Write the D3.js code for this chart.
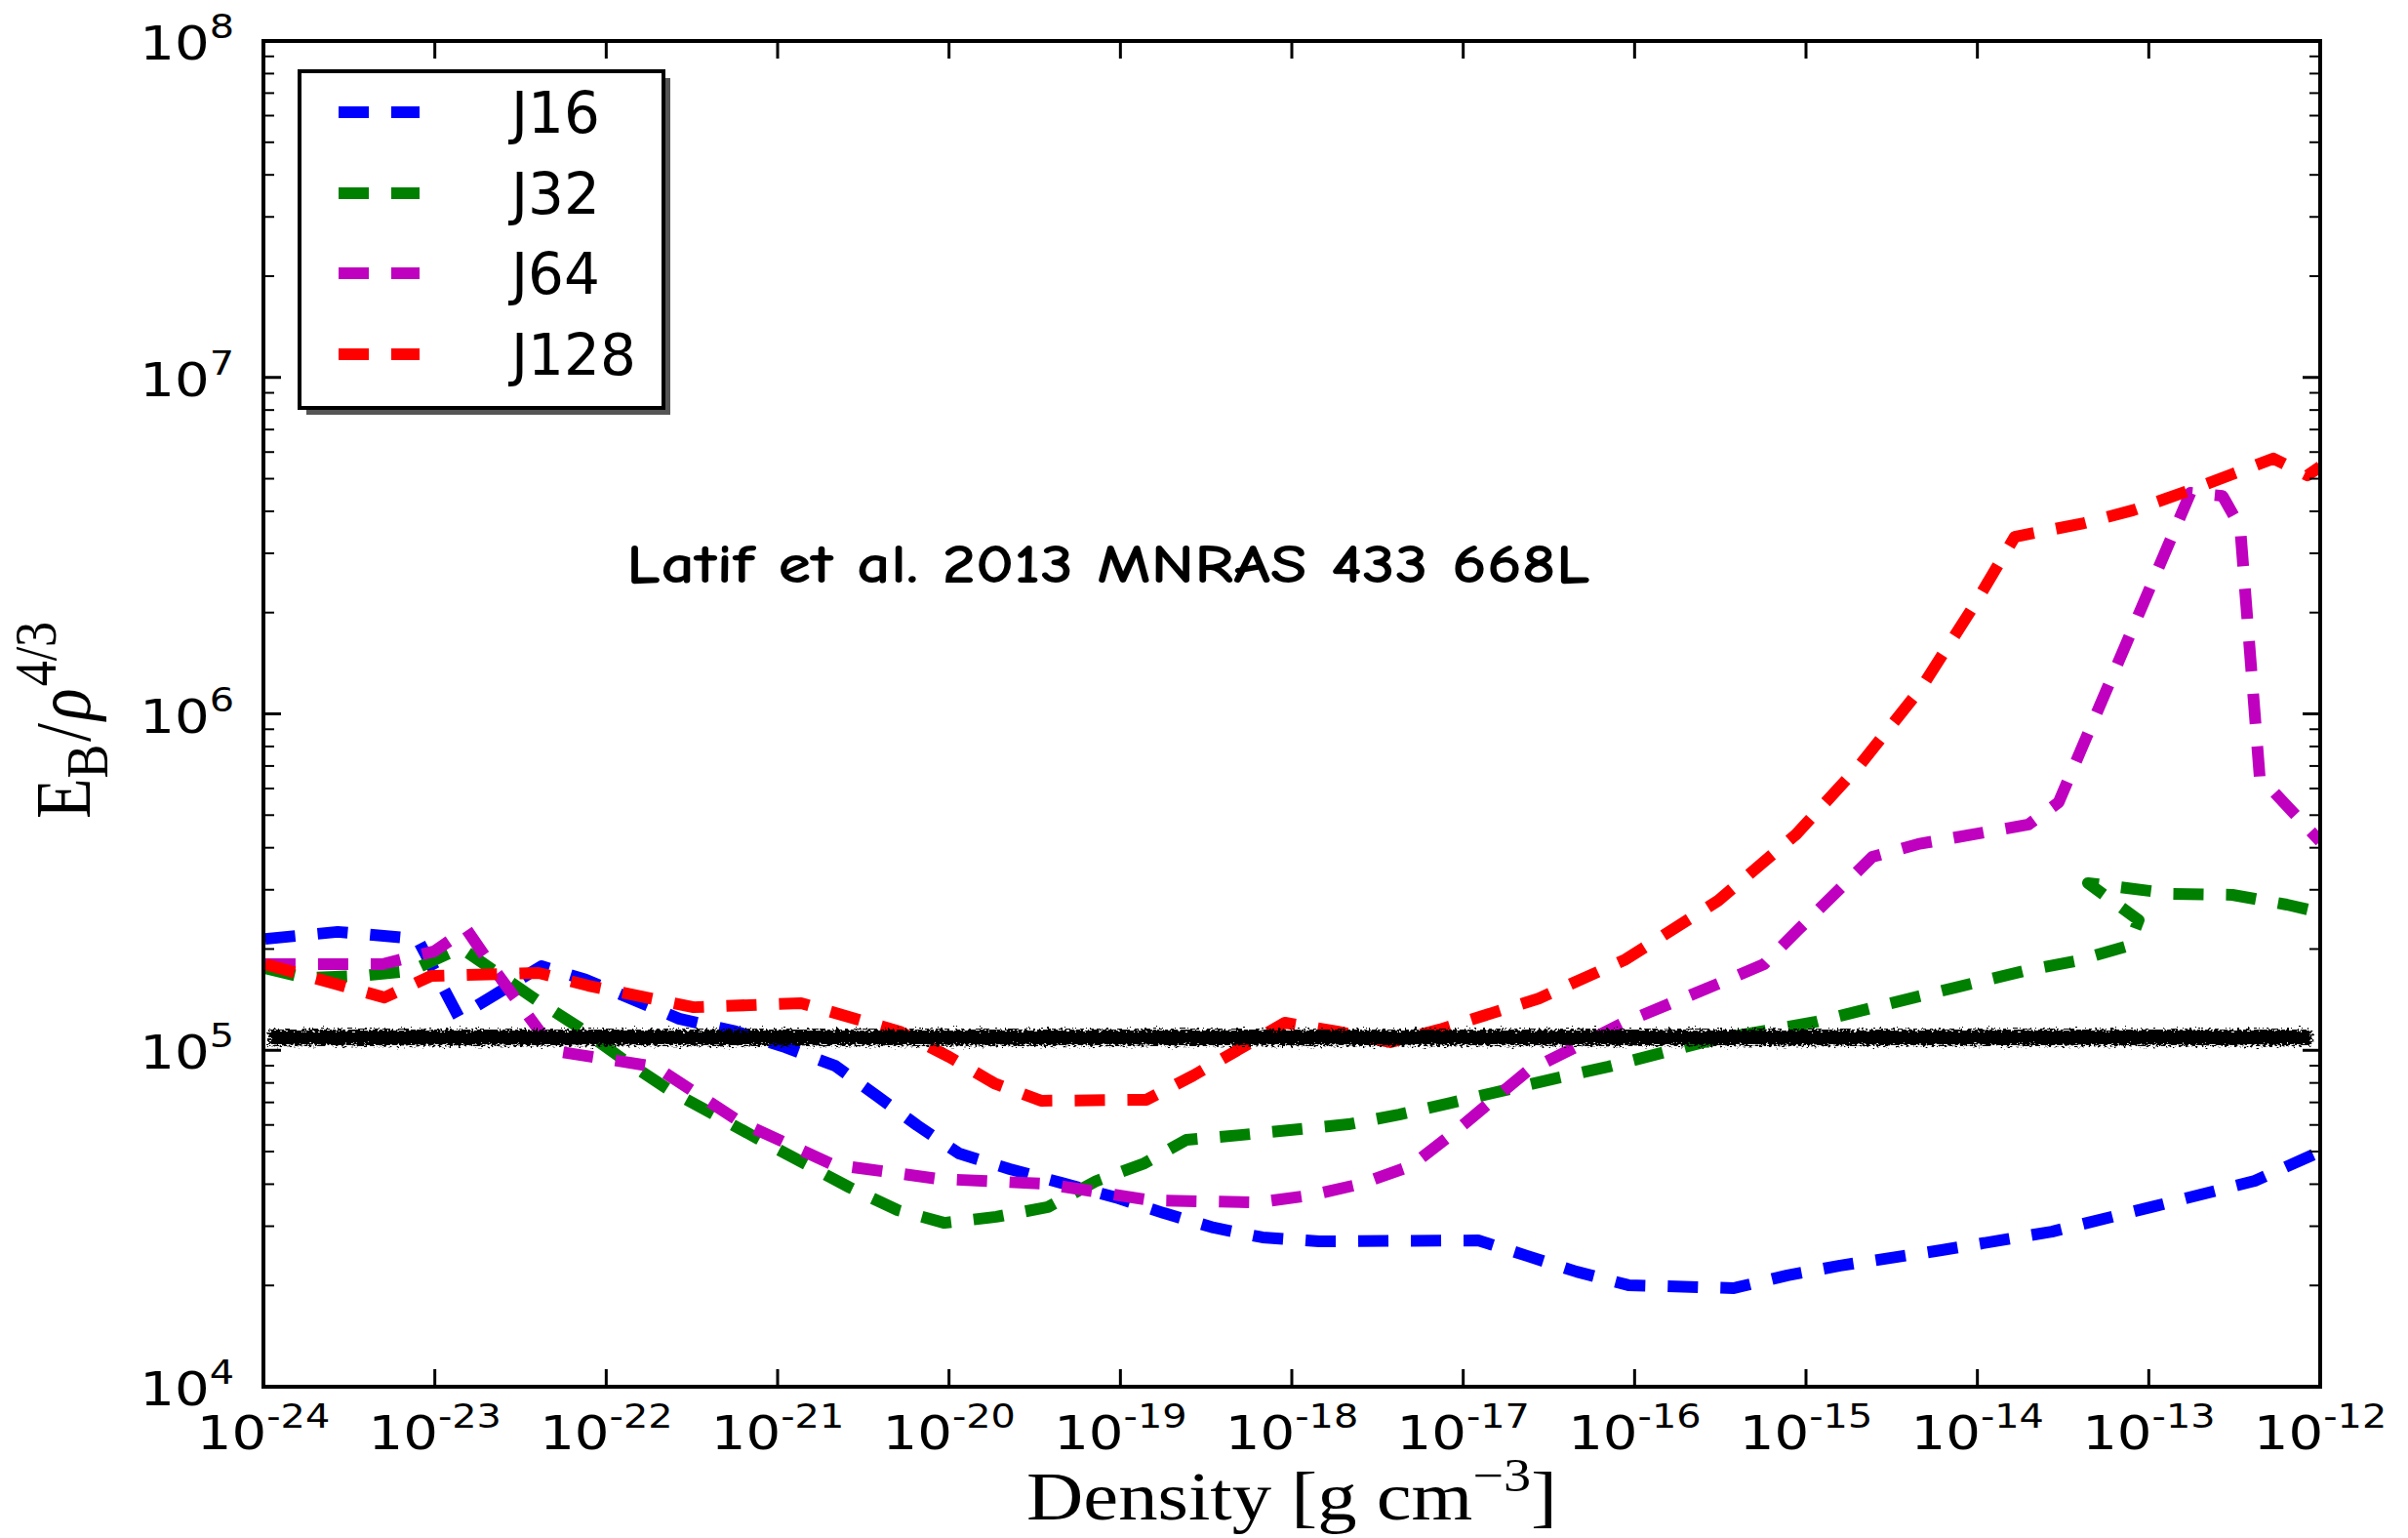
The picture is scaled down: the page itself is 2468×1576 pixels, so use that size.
<!DOCTYPE html>
<html>
<head>
<meta charset="utf-8">
<script src="https://cdn.jsdelivr.net/npm/d3@7"></script>
<style>
  html, body { margin: 0; padding: 0; background: #fff; }
  svg { display: block; }
</style>
</head>
<body>
<script>
// ---- data: log10(density [g cm^-3]) and log10(E_B / rho^{4/3}) ----
const seriesNames = ["J16", "J32", "J64", "J128"];
const seriesColors = ["#0000ff", "#008000", "#bf00bf", "#ff0000"];

const j16LogRho = [-23.99, -23.567, -23.101, -22.861, -22.378, -22.121, -21.575, -21.245, -20.955, -20.664, -20.414, -20.186, -19.941, -19.645, -19.344, -19.030, -18.746, -18.456, -18.171, -17.841, -16.913, -16.628, -16.338, -16.036, -15.421, -15.108, -14.801, -14.209, -13.566, -12.962, -12.381, -12.0];
const j16LogEB  = [5.331, 5.352, 5.331, 5.099, 5.250, 5.210, 5.094, 5.056, 5.009, 4.954, 4.862, 4.777, 4.693, 4.647, 4.606, 4.563, 4.516, 4.473, 4.444, 4.432, 4.435, 4.389, 4.342, 4.302, 4.293, 4.331, 4.360, 4.406, 4.461, 4.537, 4.612, 4.699];

const j32LogRho = [-23.989, -23.750, -23.436, -23.140, -22.850, -22.406, -22.156, -21.882, -21.632, -21.114, -20.579, -20.300, -20.027, -19.725, -19.423, -19.139, -18.860, -18.615, -18.302, -17.670, -17.374, -17.072, -16.457, -16.156, -15.552, -14.938, -14.345, -13.725, -13.429, -13.116, -13.059, -13.355, -12.860, -12.512, -12.194, -12.0];
const j32LogEB  = [5.244, 5.215, 5.221, 5.236, 5.305, 5.149, 5.067, 4.966, 4.882, 4.737, 4.592, 4.525, 4.487, 4.505, 4.534, 4.612, 4.664, 4.734, 4.748, 4.780, 4.809, 4.844, 4.917, 4.951, 5.030, 5.085, 5.160, 5.236, 5.265, 5.311, 5.387, 5.497, 5.465, 5.462, 5.433, 5.410];

const j64LogRho = [-23.989, -23.306, -23.004, -22.816, -22.668, -22.304, -22.013, -21.712, -21.216, -20.681, -20.067, -19.435, -19.110, -18.820, -18.194, -17.892, -17.596, -17.306, -17.072, -16.628, -16.366, -16.076, -15.512, -15.245, -15.046, -14.613, -14.346, -13.702, -13.526, -12.757, -12.570, -12.467, -12.353, -12.0];
const j64LogEB  = [5.256, 5.256, 5.294, 5.360, 5.250, 4.998, 4.975, 4.951, 4.786, 4.661, 4.618, 4.603, 4.577, 4.554, 4.548, 4.569, 4.603, 4.656, 4.748, 4.937, 5.004, 5.079, 5.198, 5.256, 5.358, 5.575, 5.613, 5.671, 5.737, 6.657, 6.648, 6.555, 5.813, 5.621];

const j128LogRho = [-23.989, -23.584, -23.294, -23.021, -22.395, -22.104, -21.490, -20.863, -20.289, -19.998, -19.736, -19.463, -18.848, -18.575, -18.325, -18.040, -17.738, -17.425, -17.135, -16.560, -16.053, -15.512, -15.057, -14.681, -14.328, -14.021, -13.782, -13.378, -13.093, -12.769, -12.273, -12.074, -12.0];
const j128LogEB  = [5.256, 5.198, 5.157, 5.221, 5.230, 5.192, 5.128, 5.140, 5.056, 4.980, 4.902, 4.850, 4.853, 4.925, 4.998, 5.082, 5.056, 5.024, 5.062, 5.154, 5.270, 5.445, 5.642, 5.851, 6.077, 6.321, 6.526, 6.567, 6.605, 6.663, 6.759, 6.709, 6.735];

// hand-drawn reference level
const refLevelLogEB = 5.038;
const refLevelLogRho = [-23.97, -12.05];

// axis ticks (decade exponents)
const xTickExps = [-24, -23, -22, -21, -20, -19, -18, -17, -16, -15, -14, -13, -12];
const yTickExps = [4, 5, 6, 7, 8];
const yMinorMultipliers = [2, 3, 4, 5, 6, 7, 8, 9];

const annotationText = "Latif et al. 2013 MNRAS 433 668L";

// ---- layout ----
const W = 2468, H = 1576;
const plot = { left: 270, right: 2378, top: 42, bottom: 1421 };
const SX = 1.17; // horizontal glyph stretch of the figure

const x = d3.scaleLog().domain([1e-24, 1e-12]).range([plot.left, plot.right]);
const y = d3.scaleLog().domain([1e4, 1e8]).range([plot.bottom, plot.top]);

const svg = d3.select("body").append("svg")
  .attr("width", W).attr("height", H)
  .attr("viewBox", `0 0 ${W} ${H}`);

svg.append("rect").attr("width", W).attr("height", H).attr("fill", "#fff");

const defs = svg.append("defs");
defs.append("clipPath").attr("id", "plotClip")
  .append("rect")
  .attr("x", plot.left).attr("y", plot.top)
  .attr("width", plot.right - plot.left).attr("height", plot.bottom - plot.top);

// rough marker texture for the reference level
const rough = defs.append("filter").attr("id", "rough")
  .attr("filterUnits", "userSpaceOnUse")
  .attr("x", 240).attr("y", y(10 ** refLevelLogEB) - 50)
  .attr("width", 2180).attr("height", 100);
rough.append("feTurbulence")
  .attr("type", "fractalNoise").attr("baseFrequency", "0.3 0.7")
  .attr("numOctaves", 2).attr("seed", 7).attr("result", "noise");
rough.append("feDisplacementMap")
  .attr("in", "SourceGraphic").attr("in2", "noise")
  .attr("scale", 12).attr("xChannelSelector", "R").attr("yChannelSelector", "G")
  .attr("result", "disp");
rough.append("feComponentTransfer").attr("in", "disp")
  .append("feFuncA").attr("type", "linear").attr("slope", 2.2).attr("intercept", -0.2);

// ---- series lines ----
const series = [
  { name: seriesNames[0], color: seriesColors[0], rho: j16LogRho, eb: j16LogEB },
  { name: seriesNames[1], color: seriesColors[1], rho: j32LogRho, eb: j32LogEB },
  { name: seriesNames[2], color: seriesColors[2], rho: j64LogRho, eb: j64LogEB },
  { name: seriesNames[3], color: seriesColors[3], rho: j128LogRho, eb: j128LogEB }
];

const line = d3.line()
  .x(d => x(10 ** d[0]))
  .y(d => y(10 ** d[1]));

const DASH = "31,23";
const LW = 12;

const gLines = svg.append("g").attr("clip-path", "url(#plotClip)");
series.forEach(s => {
  gLines.append("path")
    .datum(d3.zip(s.rho, s.eb))
    .attr("d", line)
    .attr("fill", "none")
    .attr("stroke", s.color)
    .attr("stroke-width", LW)
    .attr("stroke-dasharray", DASH)
    .attr("stroke-linecap", "butt")
    .attr("stroke-linejoin", "round");
});

// ---- hand-drawn reference level (on top) ----
svg.append("path")
  .datum(refLevelLogRho.map(r => [r, refLevelLogEB]))
  .attr("d", line)
  .attr("fill", "none")
  .attr("stroke", "#000")
  .attr("stroke-width", 16)
  .attr("filter", "url(#rough)");

// ---- frame ----
svg.append("rect")
  .attr("x", plot.left).attr("y", plot.top)
  .attr("width", plot.right - plot.left).attr("height", plot.bottom - plot.top)
  .attr("fill", "none").attr("stroke", "#000").attr("stroke-width", 4);

// ---- ticks (inward, all four sides) ----
const gTicks = svg.append("g").attr("stroke", "#000");
xTickExps.forEach(e => {
  const px = x(10 ** e);
  gTicks.append("line").attr("x1", px).attr("x2", px)
    .attr("y1", plot.bottom).attr("y2", plot.bottom - 18).attr("stroke-width", 3);
  gTicks.append("line").attr("x1", px).attr("x2", px)
    .attr("y1", plot.top).attr("y2", plot.top + 18).attr("stroke-width", 3);
});
yTickExps.forEach(e => {
  const py = y(10 ** e);
  gTicks.append("line").attr("x1", plot.left).attr("x2", plot.left + 18)
    .attr("y1", py).attr("y2", py).attr("stroke-width", 3);
  gTicks.append("line").attr("x1", plot.right).attr("x2", plot.right - 18)
    .attr("y1", py).attr("y2", py).attr("stroke-width", 3);
  if (e < 8) {
    yMinorMultipliers.forEach(m => {
      const pm = y(m * 10 ** e);
      gTicks.append("line").attr("x1", plot.left).attr("x2", plot.left + 11)
        .attr("y1", pm).attr("y2", pm).attr("stroke-width", 2);
      gTicks.append("line").attr("x1", plot.right).attr("x2", plot.right - 11)
        .attr("y1", pm).attr("y2", pm).attr("stroke-width", 2);
    });
  }
});

// ---- tick labels ----
function powerLabel(parent, tx, ty, exp, anchor) {
  const g = parent.append("g").attr("transform", `translate(${tx},${ty}) scale(${SX},1)`);
  const t = g.append("text")
    .attr("text-anchor", anchor)
    .attr("font-family", "'DejaVu Sans', sans-serif")
    .attr("fill", "#000");
  t.append("tspan").attr("font-size", 48).text("10");
  t.append("tspan").attr("font-size", 34).attr("dy", -22).text(String(exp));
  return t;
}

const gLabels = svg.append("g");
xTickExps.forEach(e => powerLabel(gLabels, x(10 ** e), 1485, e, "middle"));
yTickExps.forEach(e => powerLabel(gLabels, 240, y(10 ** e) + 19, e, "end"));

// ---- axis titles ----
const xTitle = svg.append("g")
  .attr("transform", `translate(${(plot.left + plot.right) / 2},1557) scale(${SX},1)`)
  .append("text")
  .attr("text-anchor", "middle")
  .attr("font-family", "'Liberation Serif', 'DejaVu Serif', serif")
  .attr("font-size", 69).attr("fill", "#000");
xTitle.append("tspan").text("Density [g cm");
xTitle.append("tspan").attr("font-size", 48).attr("dy", -29).text("\u22123");
xTitle.append("tspan").attr("dy", 29).text("]");

const yTitle = svg.append("g")
  .attr("transform", `translate(92,738) scale(${SX},1) rotate(-90)`)
  .append("text")
  .attr("text-anchor", "middle")
  .attr("font-family", "'Liberation Serif', 'DejaVu Serif', serif")
  .attr("font-size", 68).attr("fill", "#000");
yTitle.append("tspan").text("E");
yTitle.append("tspan").attr("font-size", 52).attr("dy", 15).text("B");
yTitle.append("tspan").attr("dx", 3).attr("dy", -15).text("/");
yTitle.append("tspan").attr("dx", 3).attr("font-style", "italic").text("\u03c1");
yTitle.append("tspan").attr("font-size", 52).attr("dx", 2).attr("dy", -30).text("4/3");

// ---- legend ----
const legend = { x: 307, y: 73, w: 373, h: 345 };
const gLeg = svg.append("g");
gLeg.append("rect")
  .attr("x", legend.x + 7).attr("y", legend.y + 7)
  .attr("width", legend.w).attr("height", legend.h)
  .attr("fill", "#555");
gLeg.append("rect")
  .attr("x", legend.x).attr("y", legend.y)
  .attr("width", legend.w).attr("height", legend.h)
  .attr("fill", "#fff").attr("stroke", "#000").attr("stroke-width", 4);

const legendRows = [115, 198, 280, 363];
series.forEach((s, i) => {
  const ry = legendRows[i];
  gLeg.append("line")
    .attr("x1", 347).attr("x2", 430).attr("y1", ry).attr("y2", ry)
    .attr("stroke", s.color).attr("stroke-width", LW)
    .attr("stroke-dasharray", DASH).attr("stroke-linecap", "butt");
  gLeg.append("text")
    .attr("x", 524).attr("y", ry + 21)
    .attr("font-family", "'DejaVu Sans', sans-serif")
    .attr("font-size", 58).attr("fill", "#000")
    .text(s.name);
});

// ---- citation note ----
svg.append("text")
  .attr("x", 642).attr("y", 597)
  .attr("font-family", "'Comic Sans MS', 'Comic Neue', Lato, sans-serif")
  .attr("font-weight", "bold")
  .attr("font-size", 56)
  .attr("textLength", 988)
  .attr("lengthAdjust", "spacingAndGlyphs")
  .attr("fill", "#000")
  .text(annotationText);
</script>
</body>
</html>
